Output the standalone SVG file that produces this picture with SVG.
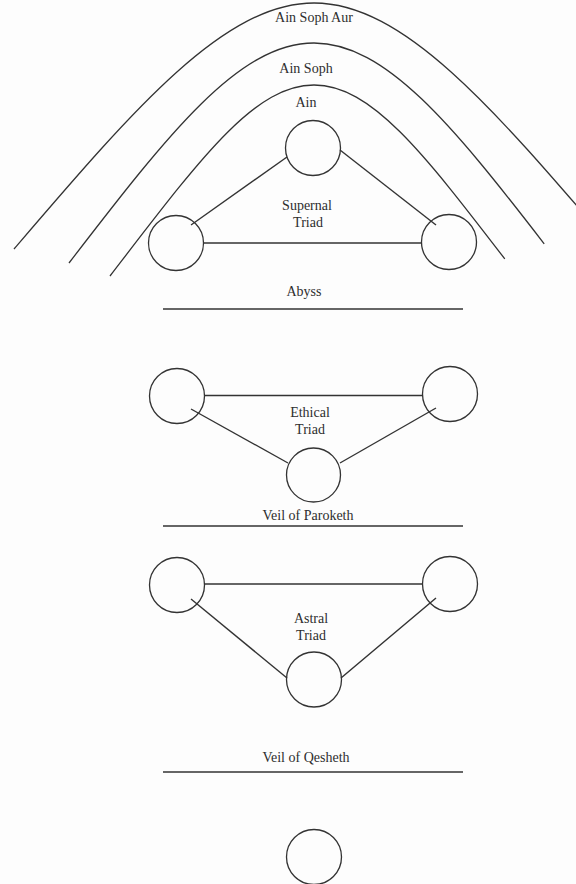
<svg xmlns="http://www.w3.org/2000/svg" width="576" height="884" viewBox="0 0 576 884">
<style>
.bg{fill:#fdfdfd}
.arc{fill:none;stroke:#333;stroke-width:1.3}
.veil{fill:none;stroke:#333;stroke-width:1.5}
.node{fill:none;stroke:#333;stroke-width:1.3}
.edge{fill:none;stroke:#333;stroke-width:1.4}
.lbl{font-family:"Liberation Serif","Times New Roman",serif;font-size:14px;fill:#2e2e2e;text-anchor:middle}
</style>
<rect class="bg" x="0" y="0" width="576" height="884"/>
<g id="veils-of-negative-existence">
  <path class="arc" d="M14,249 C134,109 224,3 314,3 C404,3 494,109 614,249"/>
  <path class="arc" d="M69,263 C169,133 239,43 314,43 C385.25,43 452,124.2 544.2,243.8"/>
  <path class="arc" d="M110,276 C200,159 254,85 314,85 C371,85 422.6,151.8 504.8,258.9"/>
  <text class="lbl" x="314" y="22">Ain Soph Aur</text>
  <text class="lbl" x="306" y="73">Ain Soph</text>
  <text class="lbl" x="306" y="107">Ain</text>
</g>
<g id="veil-lines">
  <line class="veil" x1="163" y1="309" x2="463" y2="309"/>
  <text class="lbl" x="304" y="296">Abyss</text>
  <line class="veil" x1="163" y1="526" x2="463" y2="526"/>
  <text class="lbl" x="308" y="520">Veil of Paroketh</text>
  <line class="veil" x1="163" y1="772" x2="463" y2="772"/>
  <text class="lbl" x="306" y="762">Veil of Qesheth</text>
</g>
<g id="connectors">
  <line class="edge" x1="191" y1="225" x2="287" y2="157"/>
  <line class="edge" x1="340" y1="150" x2="436" y2="225"/>
  <line class="edge" x1="204" y1="243" x2="422" y2="243"/>
  <line class="edge" x1="205" y1="395.5" x2="423" y2="395.5"/>
  <line class="edge" x1="191" y1="409" x2="288" y2="463"/>
  <line class="edge" x1="340" y1="463" x2="436" y2="408"/>
  <line class="edge" x1="205" y1="584" x2="423" y2="584"/>
  <line class="edge" x1="191" y1="599" x2="287" y2="678"/>
  <line class="edge" x1="341" y1="678" x2="436" y2="598"/>
</g>
<g id="supernal-triad">
  <g id="n-kether"><circle class="node" cx="313" cy="148" r="27.5"/></g>
  <g id="n-chokmah"><circle class="node" cx="449" cy="242" r="27.5"/></g>
  <g id="n-binah"><circle class="node" cx="176" cy="243" r="27.5"/></g>
  <text class="lbl" x="307" y="210">Supernal</text>
  <text class="lbl" x="308" y="227">Triad</text>
</g>
<g id="ethical-triad">
  <g id="n-chesed"><circle class="node" cx="450" cy="394" r="27.5"/></g>
  <g id="n-geburah"><circle class="node" cx="177" cy="396" r="27.5"/></g>
  <g id="n-tiphareth"><circle class="node" cx="313.5" cy="475" r="27"/></g>
  <text class="lbl" x="310" y="417">Ethical</text>
  <text class="lbl" x="310" y="434">Triad</text>
</g>
<g id="astral-triad">
  <g id="n-netzach"><circle class="node" cx="450" cy="584" r="27.5"/></g>
  <g id="n-hod"><circle class="node" cx="177" cy="585" r="27.5"/></g>
  <g id="n-yesod"><circle class="node" cx="314" cy="679.5" r="27.5"/></g>
  <text class="lbl" x="311" y="623">Astral</text>
  <text class="lbl" x="311" y="640">Triad</text>
</g>
<g id="n-malkuth"><circle class="node" cx="314" cy="857" r="27.5"/></g>
</svg>
